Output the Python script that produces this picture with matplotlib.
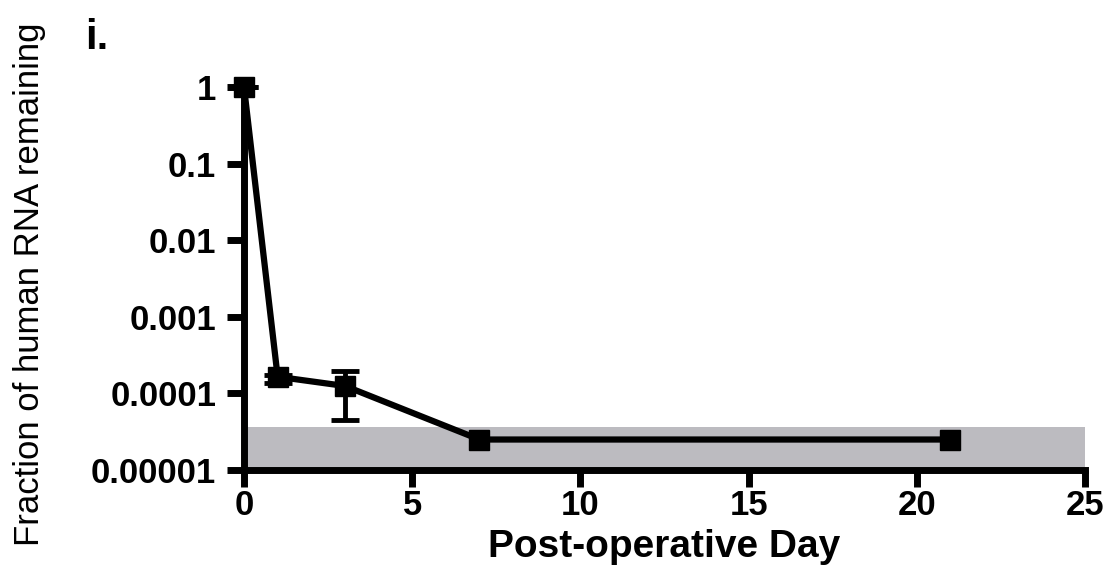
import matplotlib
matplotlib.use("Agg")
import matplotlib.pyplot as plt

days = [0, 1, 3, 7, 21]
fraction = [1.0, 1.65e-4, 1.25e-4, 2.5e-5, 2.5e-5]
err_days = [0, 1, 3]
err_vals = [1.0, 1.65e-4, 1.25e-4]
err_low = [0.0, 0.3e-4, 0.8e-4]
err_high = [0.0, 0.1e-4, 0.72e-4]
band_lo, band_hi = 1e-5, 3.6e-5
xticks = [0, 5, 10, 15, 20, 25]
yticks = [1, 0.1, 0.01, 0.001, 0.0001, 0.00001]
ytick_labels = ["1", "0.1", "0.01", "0.001", "0.0001", "0.00001"]

fig = plt.figure(figsize=(11.1, 5.69), dpi=100)
ax = fig.add_axes([244/1110, 1-470/569, (1085-244)/1110, (470-87)/569])

ax.fill_between([0, 25], band_lo, band_hi, color="#bcbbc0", lw=0, zorder=1)
ax.plot(days, fraction, color="black", lw=4.5, marker="s", ms=14, zorder=3,
        clip_on=False)
ax.errorbar(err_days, err_vals, yerr=[err_low, err_high], fmt="none", ecolor="black",
            capsize=10, capthick=3.5, elinewidth=3.5, zorder=3, clip_on=False)

ax.set_yscale("log")
ax.set_ylim(1e-5, 1)
ax.set_xlim(0, 25)
ax.set_xticks(xticks)
ax.set_xticklabels([str(t) for t in xticks])
ax.set_yticks(yticks)
ax.set_yticklabels(ytick_labels)
ax.yaxis.set_minor_locator(matplotlib.ticker.NullLocator())

for s in ["top", "right"]:
    ax.spines[s].set_visible(False)
for s in ["left", "bottom"]:
    ax.spines[s].set_linewidth(5)
ax.tick_params(axis="both", which="major", length=12, width=5, direction="out")
ax.tick_params(axis="x", pad=2)
ax.tick_params(axis="y", pad=8)
for lab in ax.get_xticklabels() + ax.get_yticklabels():
    lab.set_fontfamily("Liberation Sans")
    lab.set_fontweight("bold")
    lab.set_fontsize(25)

ax.set_xlabel("Post-operative Day", fontfamily="Liberation Sans", fontweight="bold",
              fontsize=28, labelpad=5)
fig.text(30/1110, 0.5, "Fraction of human RNA remaining", rotation=90,
         ha="center", va="center", fontfamily="Liberation Sans", fontsize=25)
fig.text(85/1110, 1-38/569, "i.", fontfamily="Liberation Sans", fontweight="bold",
         fontsize=30, ha="left", va="center")

fig.savefig("out.png", dpi=100)
